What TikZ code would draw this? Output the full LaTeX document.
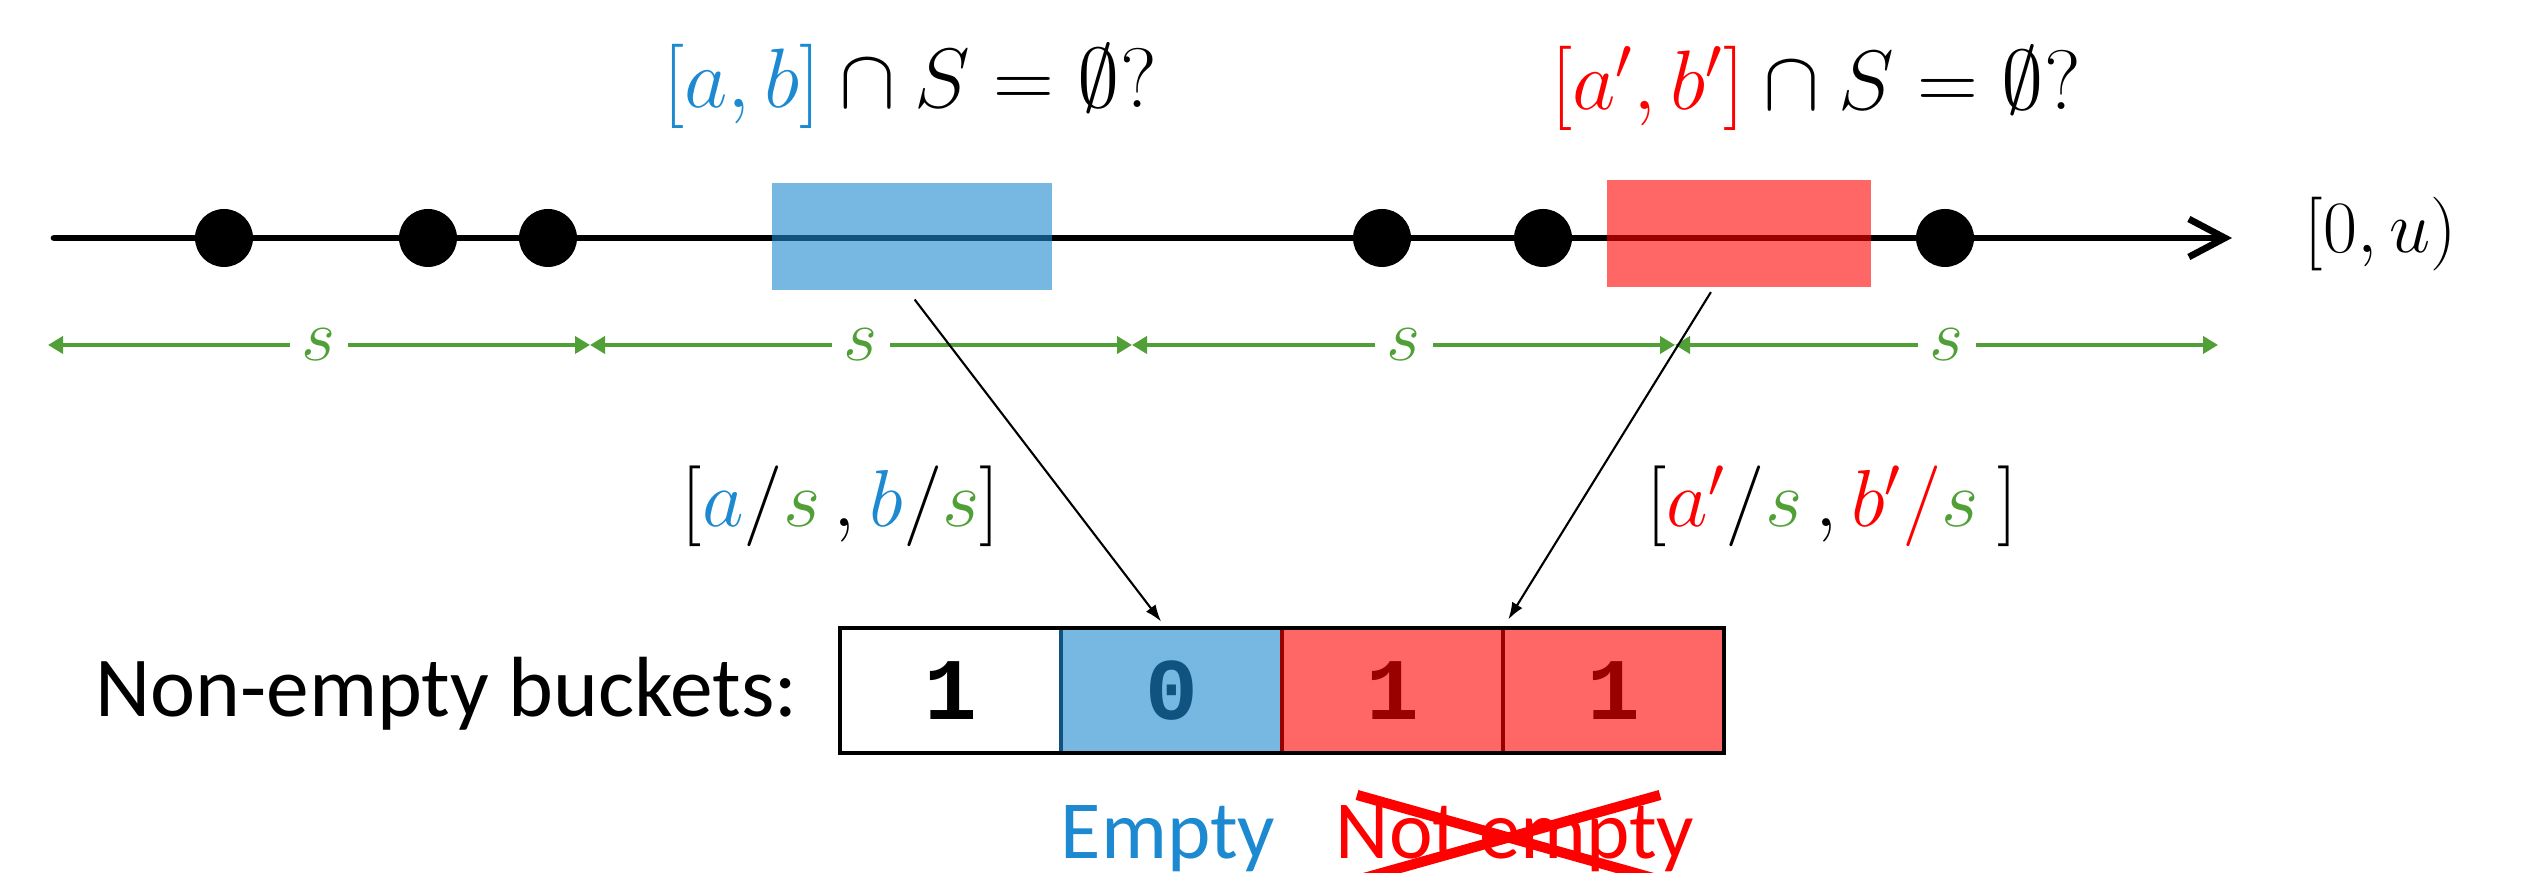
\RequirePackage{fix-cm}
\documentclass[tikz,border=0pt]{standalone}
\usepackage{amsmath}
\usepackage{amssymb}
\usepackage[no-math]{fontspec}
\setmainfont{Carlito}
\setmonofont{Liberation Mono}
\usepackage{xcolor}
\usetikzlibrary{arrows.meta,positioning}

\definecolor{ablue}{RGB}{28,137,208}
\definecolor{dblue}{RGB}{16,82,128}
\definecolor{dred}{RGB}{153,0,0}
\definecolor{sgreen}{RGB}{80,160,55}

\begin{document}
\begin{tikzpicture}[
    interval/.style={inner sep=0pt, outer sep=0pt, minimum height=1.07cm, fill opacity=0.6},
    bucket/.style={draw, line width=1.2pt, inner sep=0pt, outer sep=0pt,
      minimum width=2.21cm, minimum height=1.25cm,
      font=\fontsize{25}{30}\selectfont\ttfamily\bfseries},
    mathlbl/.style={inner sep=0pt, font=\fontsize{24}{29}\selectfont},
    fraclbl/.style={inner sep=0pt, font=\fontsize{23}{28}\selectfont},
    txtlbl/.style={inner sep=0pt, font=\fontsize{23.5}{28}\selectfont},
    slabel/.style={fill=white, inner sep=0.12cm, text=sgreen, font=\fontsize{21}{25}\selectfont},
    seg/.style={sgreen, line width=1.1pt, {Triangle[length=0.15cm,width=0.17cm]}-{Triangle[length=0.15cm,width=0.17cm]}},
    mapto/.style={line width=0.6pt, -{Latex[length=0.17cm,width=0.12cm]}}
  ]
  \useasboundingbox (0,0) rectangle (25.44,8.73);

  % number line with the points of S
  \draw[line width=1.9pt, line cap=round, -{Straight Barb[length=0.36cm,width=0.38cm]}] (0.54,6.35) -- (22.32,6.35);
  \node[mathlbl, font=\fontsize{21}{25}\selectfont, anchor=base west] (range) at (23.04,6.20) {$[0,u)$};
  \foreach \x in {2.24,4.28,5.48,13.82,15.43,19.45}
    \fill (\x,6.35) circle (0.29);

  % query intervals
  \node[interval, fill=ablue, minimum width=2.80cm] (ivab) at (9.12,6.365) {};
  \node[interval, fill=red, minimum width=2.64cm] (ivr) at (17.39,6.395) {};
  \node[mathlbl, anchor=base] (qab) at (9.10,7.65) {${\color{ablue}[a,b]}\cap S=\emptyset?$};
  \node[mathlbl, anchor=base] (qr) at (18.16,7.63) {${\color{red}[a',b']}\cap S=\emptyset?$};

  % buckets of width s
  \foreach \a/\b in {0.48/5.90, 5.90/11.32, 11.32/16.75, 16.75/22.18}
    \draw[seg] (\a,5.28) -- (\b,5.28) node[midway, slabel] {$s$};

  % bit array
  \node[bucket] (c1) at (9.505,1.825) {1};
  \node[bucket, right=0cm of c1, fill=ablue!60, draw=dblue, text=dblue] (c2) {0};
  \node[bucket, right=0cm of c2, fill=red!60, draw=dred, text=dred] (c3) {1};
  \node[bucket, right=0cm of c3, fill=red!60, draw=dred, text=dred] (c4) {1};
  \draw[line width=1.2pt] (c1.north west) rectangle (c4.south east);
  \node[txtlbl, font=\fontsize{24.3}{29}\selectfont, anchor=base east] (nonempty) at (7.98,1.56) {Non-empty buckets:};

  % mapping to bucket indices
  \draw[mapto, shorten <=0.12cm, shorten >=0.08cm] (ivab.265) -- (c2.95);
  \draw[mapto, shorten <=0.06cm, shorten >=0.10cm] (ivr.245) -- (c3.north east);
  \node[fraclbl, anchor=base] (fab) at (8.41,3.46)
    {$[{\color{ablue}a}/{\color{sgreen}s}\,,{\color{ablue}b}/{\color{sgreen}s}]$};
  \node[fraclbl, anchor=base] (fr) at (18.32,3.46)
    {$[{\color{red}a'}/{\color{sgreen}s}\,,{\color{red}b'/}{\color{sgreen}s}\ ]$};

  % answers
  \node[txtlbl, anchor=base, text=ablue] (empty) at (11.68,0.14) {Empty};
  \node[txtlbl, anchor=base, text=red] (notempty) at (15.15,0.14) {Not empty};
  \draw[red, line width=2.9pt] (13.57,0.78) -- (16.60,-0.07);
  \draw[red, line width=2.9pt] (16.60,0.78) -- (13.57,-0.07);
\end{tikzpicture}
\end{document}
